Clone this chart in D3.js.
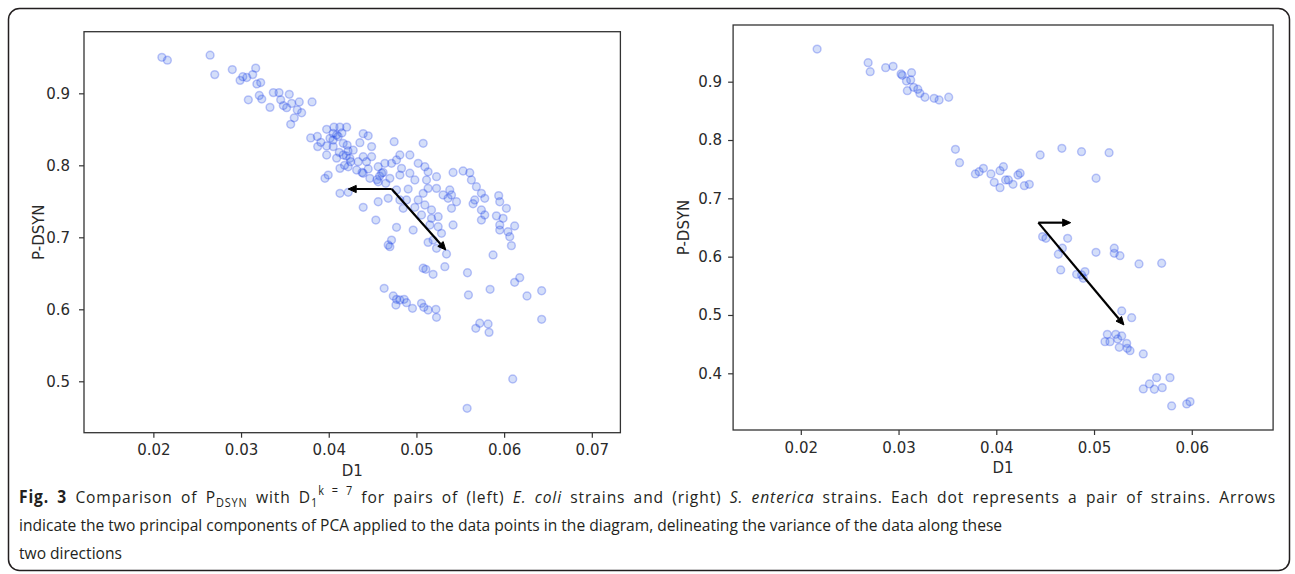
<!DOCTYPE html>
<html>
<head>
<meta charset="utf-8">
<script src="https://cdn.jsdelivr.net/npm/d3@7"></script>
<style>
  body { margin: 0; background: #fff; }
  svg { display: block; }
</style>
</head>
<body>
<svg id="fig" width="1295" height="574"></svg>
<script>
// E. coli pairs (left panel)
var leftD1 = [
  0.02097, 0.0216, 0.02647, 0.0270, 0.0290, 0.02989, 0.0302, 0.03065, 0.03133, 0.03167,
  0.0318, 0.03224, 0.03083, 0.03208, 0.03236, 0.0333, 0.03368, 0.03433, 0.03452, 0.03482,
  0.0352, 0.0355, 0.03577, 0.03664, 0.03641, 0.03691, 0.03607, 0.03566, 0.0381,
  0.03794, 0.0387, 0.03874, 0.0391, 0.03976, 0.0406, 0.04127, 0.04204, 0.04014, 0.0409,
  0.03976, 0.04051, 0.04051, 0.04108, 0.04165, 0.0421, 0.04393, 0.0445, 0.04355, 0.04489,
  0.04746, 0.05077, 0.0409, 0.0420, 0.04279, 0.04393, 0.04489, 0.03976, 0.04165, 0.04241,
  0.04336, 0.04431, 0.04128, 0.04222, 0.04318, 0.04393, 0.04564, 0.04603, 0.0464, 0.04716,
  0.04773, 0.04811, 0.04925, 0.0483, 0.04925, 0.0502, 0.05096, 0.05133, 0.05229, 0.05418,
  0.05532, 0.05608, 0.05627, 0.03957, 0.03994, 0.04469, 0.04564, 0.04697, 0.04811, 0.04982,
  0.05115, 0.04128, 0.04222, 0.04393, 0.04564, 0.04678, 0.04537, 0.04773, 0.04906, 0.04811,
  0.04887, 0.04849, 0.0502, 0.04982, 0.05077, 0.05133, 0.05096, 0.05172, 0.05058, 0.05172,
  0.05248, 0.05153, 0.05248, 0.05229, 0.05304, 0.0538, 0.054, 0.05361, 0.05457, 0.054,
  0.05418, 0.05286, 0.0519, 0.05133, 0.05229, 0.05343, 0.04963, 0.04773, 0.04716, 0.04678,
  0.04697, 0.05684, 0.05741, 0.05779, 0.05665, 0.05646, 0.05741, 0.05741, 0.05779, 0.05938,
  0.0595, 0.06026, 0.05912, 0.05988, 0.0595, 0.0595, 0.06044, 0.0612, 0.06064, 0.06083,
  0.05874, 0.0425, 0.0445, 0.0458, 0.0462, 0.0465, 0.0455, 0.0438, 0.0418, 0.0412,
  0.0422, 0.0415, 0.0405, 0.05077, 0.05107, 0.0519, 0.05324, 0.05582, 0.0612, 0.06178,
  0.04632, 0.04736, 0.04773, 0.04766, 0.04811, 0.0486, 0.04887, 0.04955, 0.05058, 0.05084,
  0.05133, 0.05222, 0.05229, 0.05593, 0.0584, 0.06261, 0.06428, 0.06428, 0.05722, 0.05677,
  0.05817, 0.05828, 0.06098, 0.05578
];
var leftPdsyn = [
  0.950, 0.946, 0.953, 0.926, 0.933, 0.918, 0.923, 0.922, 0.926, 0.935,
  0.913, 0.915, 0.891, 0.897, 0.892, 0.8805, 0.901, 0.901, 0.891, 0.883,
  0.880, 0.8986, 0.886, 0.888, 0.877, 0.873, 0.866, 0.857, 0.888,
  0.838, 0.840, 0.826, 0.832, 0.850, 0.853, 0.853, 0.853, 0.8375, 0.842,
  0.827, 0.826, 0.8444, 0.840, 0.8306, 0.828, 0.844, 0.841, 0.8314, 0.826,
  0.8328, 0.8306, 0.810, 0.813, 0.821, 0.812, 0.812, 0.8143, 0.8143, 0.8097,
  0.805, 0.805, 0.7958, 0.798, 0.7935, 0.789, 0.798, 0.789, 0.8028, 0.8028,
  0.8074, 0.8143, 0.8143, 0.7958, 0.789, 0.8028, 0.798, 0.791, 0.7842, 0.790,
  0.7921, 0.7897, 0.7796, 0.782, 0.7865, 0.782, 0.7772, 0.782, 0.7865, 0.7796,
  0.7796, 0.7611, 0.7625, 0.7417, 0.7494, 0.7542, 0.724, 0.7657, 0.767, 0.7518,
  0.7518, 0.7403, 0.7518, 0.7417, 0.7611, 0.768, 0.7449, 0.738, 0.731, 0.7264,
  0.7286, 0.7171, 0.7147, 0.768, 0.7588, 0.7657, 0.7588, 0.7542, 0.7494, 0.7403,
  0.7171, 0.7056, 0.6962, 0.693, 0.6847, 0.6768, 0.7101, 0.7139, 0.6962, 0.6893,
  0.687, 0.7703, 0.7611, 0.7542, 0.7518, 0.7466, 0.738, 0.724, 0.731, 0.7579,
  0.7494, 0.7403, 0.7298, 0.7264, 0.7171, 0.7101, 0.7078, 0.7157, 0.7009, 0.6884,
  0.6755, 0.805, 0.795, 0.785, 0.790, 0.775, 0.780, 0.790, 0.800, 0.818,
  0.820, 0.845, 0.835, 0.657, 0.6556, 0.6486, 0.6592, 0.6508, 0.6375, 0.6439,
  0.6292, 0.6185, 0.6139, 0.606, 0.6129, 0.6139, 0.6092, 0.6014, 0.6083, 0.6028,
  0.599, 0.600, 0.5889, 0.6199, 0.6278, 0.6185, 0.6258, 0.5861, 0.5806, 0.5736,
  0.5796, 0.568, 0.5032, 0.4625
];

// S. enterica pairs (right panel)
var rightD1 = [
  0.02167, 0.02689, 0.0271, 0.02868, 0.02944, 0.03026, 0.03038, 0.03133, 0.03081, 0.03124,
  0.0309, 0.03154, 0.03197, 0.03218, 0.0327, 0.03364, 0.03415, 0.03513,
  0.03582, 0.03624, 0.03786, 0.03825, 0.03868, 0.03945, 0.03979, 0.04038, 0.04038, 0.04073,
  0.04095, 0.04124, 0.04171, 0.04222, 0.04244, 0.04287, 0.04338, 0.04449, 0.04671, 0.04872,
  0.05154, 0.05021,
  0.04474, 0.04508, 0.0473, 0.04676, 0.04635, 0.04659, 0.04822, 0.04873, 0.04907, 0.0489,
  0.0502, 0.05207, 0.05207, 0.05265, 0.0546, 0.05692, 0.05283, 0.05385, 0.05136, 0.05112,
  0.05163, 0.05222, 0.05242, 0.05283, 0.05258, 0.05334, 0.0534, 0.05368, 0.05504, 0.0564,
  0.05777, 0.05567, 0.05504, 0.05617, 0.05698, 0.05794, 0.05948, 0.05982
];
var rightPdsyn = [
  0.956, 0.9326, 0.9171, 0.924, 0.9264, 0.9132, 0.911, 0.9154, 0.9012, 0.903,
  0.8846, 0.8904, 0.887, 0.880, 0.8733, 0.8715, 0.8686, 0.8733,
  0.7841, 0.7611, 0.7418, 0.7457, 0.7515, 0.7418, 0.7275, 0.7183, 0.7474, 0.7543,
  0.7315, 0.7315, 0.7241, 0.740, 0.743, 0.7217, 0.7241, 0.7743, 0.7858, 0.780,
  0.7783, 0.7344,
  0.6343, 0.6315, 0.6315, 0.6144, 0.6041, 0.5772, 0.5698, 0.5686, 0.5743, 0.563,
  0.6075, 0.6144, 0.6058, 0.6017, 0.5875, 0.5887, 0.5069, 0.4954, 0.4669, 0.4543,
  0.4543, 0.4669, 0.4589, 0.464, 0.4446, 0.4514, 0.4429, 0.4388, 0.4332, 0.3926,
  0.3926, 0.3818, 0.3732, 0.3727, 0.3754, 0.344, 0.3475, 0.3514
];

// PCA arrows: [originD1, originP, tipD1, tipP]
var leftArrows = [
  [0.04718, 0.7671, 0.04222, 0.7671],
  [0.04718, 0.7671, 0.05335, 0.6824]
];
var rightArrows = [
  [0.0443, 0.6583, 0.04761, 0.6583],
  [0.0443, 0.6583, 0.05306, 0.4829]
];

var leftXTicks = [0.02, 0.03, 0.04, 0.05, 0.06, 0.07];
var leftYTicks = [0.5, 0.6, 0.7, 0.8, 0.9];
var rightXTicks = [0.02, 0.03, 0.04, 0.05, 0.06];
var rightYTicks = [0.4, 0.5, 0.6, 0.7, 0.8, 0.9];

var xLabel = "D1";
var yLabel = "P-DSYN";

var svg = d3.select("#fig");

// rounded outer frame
svg.append("rect")
  .attr("x", 8.5).attr("y", 8.5)
  .attr("width", 1281).attr("height", 562)
  .attr("rx", 11).attr("ry", 11)
  .attr("fill", "none")
  .attr("stroke", "#231f20")
  .attr("stroke-width", 1.5);

function drawPanel(opts) {
  var x = d3.scaleLinear().domain(opts.xDomain).range([opts.left, opts.right]);
  var y = d3.scaleLinear().domain(opts.yDomain).range([opts.bottom, opts.top]);
  var g = svg.append("g");

  // x axis
  var xa = g.append("g")
    .attr("transform", "translate(0," + opts.bottom + ")")
    .call(d3.axisBottom(x).tickValues(opts.xTicks).tickFormat(d3.format(".2f"))
      .tickSize(5).tickSizeOuter(0).tickPadding(7));
  // y axis
  var ya = g.append("g")
    .attr("transform", "translate(" + opts.left + ",0)")
    .call(d3.axisLeft(y).tickValues(opts.yTicks).tickFormat(d3.format(".1f"))
      .tickSize(5).tickSizeOuter(0).tickPadding(opts.yPad));
  [xa, ya].forEach(function(a) {
    a.select(".domain").remove();
    a.selectAll("line").attr("stroke", "#333").attr("stroke-width", 1.2);
    a.selectAll("text")
      .style("font-family", "'DejaVu Sans', sans-serif")
      .style("font-size", "15px")
      .attr("fill", "#2a2a2a");
  });

  // points
  g.append("g").selectAll("circle")
    .data(opts.xs.map(function(d, i) { return [d, opts.ys[i]]; }))
    .enter()
    .append("circle")
      .attr("cx", function(d) { return x(d[0]); })
      .attr("cy", function(d) { return y(d[1]); })
      .attr("r", 3.9)
      .attr("fill", "rgb(40,90,225)")
      .attr("fill-opacity", 0.2)
      .attr("stroke", "rgb(30,60,235)")
      .attr("stroke-opacity", 0.28)
      .attr("stroke-width", 1.5);

  // arrows
  opts.arrows.forEach(function(a) {
    var x0 = x(a[0]), y0 = y(a[1]), x1 = x(a[2]), y1 = y(a[3]);
    var ang = Math.atan2(y1 - y0, x1 - x0);
    var hl = 8, hw = 3.6;
    var bx = x1 - hl * Math.cos(ang), by = y1 - hl * Math.sin(ang);
    g.append("line")
      .attr("x1", x0).attr("y1", y0).attr("x2", bx).attr("y2", by)
      .attr("stroke", "#000").attr("stroke-width", 2.2);
    g.append("path")
      .attr("d", "M" + x1 + "," + y1 +
        "L" + (bx - hw * Math.sin(ang)) + "," + (by + hw * Math.cos(ang)) +
        "L" + (bx + hw * Math.sin(ang)) + "," + (by - hw * Math.cos(ang)) + "Z")
      .attr("fill", "#000")
      .attr("stroke", "#000")
      .attr("stroke-width", 1);
  });

  // frame
  g.append("rect")
    .attr("x", opts.left).attr("y", opts.top)
    .attr("width", opts.right - opts.left).attr("height", opts.bottom - opts.top)
    .attr("fill", "none").attr("stroke", "#333").attr("stroke-width", 1.3);

  g.append("text")
    .attr("x", (opts.left + opts.right) / 2).attr("y", opts.bottom + 43)
    .attr("text-anchor", "middle")
    .style("font-family", "'DejaVu Sans', sans-serif").style("font-size", "15px")
    .attr("fill", "#2a2a2a")
    .text(xLabel);
  g.append("text")
    .attr("transform", "translate(" + opts.yLabelX + "," + ((opts.top + opts.bottom) / 2) + ") rotate(-90)")
    .attr("text-anchor", "middle")
    .style("font-family", "'DejaVu Sans', sans-serif").style("font-size", "15px")
    .attr("fill", "#2a2a2a")
    .text(yLabel);
}

drawPanel({
  xs: leftD1, ys: leftPdsyn, arrows: leftArrows,
  xDomain: [0.01209, 0.07326], yDomain: [0.4286, 0.9856],
  left: 84, right: 620.4, top: 31.7, bottom: 432.7,
  xTicks: leftXTicks, yTicks: leftYTicks, yPad: 9, yLabelX: 44
});
drawPanel({
  xs: rightD1, ys: rightPdsyn, arrows: rightArrows,
  xDomain: [0.013074, 0.06832], yDomain: [0.3028, 0.9972],
  left: 733.1, right: 1273.1, top: 25, bottom: 430,
  xTicks: rightXTicks, yTicks: rightYTicks, yPad: 6, yLabelX: 689
});

// caption (condensed face, justified first line)
var capX = 19, capRight = 1276, line2Right = 1003;
var cap = svg.append("g")
  .style("font-family", "'Open Sans', sans-serif")
  .style("font-size", "17px")
  .attr("fill", "#231f20");

var line1 = cap.append("text").attr("x", 0).attr("y", 503);
line1.append("tspan").attr("font-weight", "bold").text("Fig. 3");
line1.append("tspan").text(" Comparison of P");
line1.append("tspan").attr("font-size", "0.7em").attr("dy", 4).text("DSYN");
line1.append("tspan").attr("dy", -4).text(" with D");
line1.append("tspan").attr("font-size", "0.7em").attr("dy", 4).text("1");
line1.append("tspan").attr("font-size", "0.7em").attr("dy", -12).text("k = 7");
line1.append("tspan").attr("dy", 8).text(" for pairs of (left) ");
line1.append("tspan").attr("font-style", "italic").text("E. coli");
line1.append("tspan").text(" strains and (right) ");
line1.append("tspan").attr("font-style", "italic").text("S. enterica");
line1.append("tspan").text(" strains. Each dot represents a pair of strains. Arrows");

var line2 = cap.append("text").attr("x", 0).attr("y", 531)
  .text("indicate the two principal components of PCA applied to the data points in the diagram, delineating the variance of the data along these");
var line3 = cap.append("text").attr("x", 0).attr("y", 559)
  .text("two directions");

var sx = (line2Right - capX) / line2.node().getComputedTextLength();
cap.attr("transform", "translate(" + capX + ",0) scale(" + sx + ",1)");
var w1 = line1.node().getComputedTextLength();
var txt1 = line1.text();
var spaces = txt1.split(" ").length - 1;
var extra = (capRight - capX) / sx - w1;
var ls = 0.6 * extra / txt1.length;
line1.style("letter-spacing", ls + "px");
var w1b = line1.node().getComputedTextLength();
line1.style("word-spacing", ((capRight - capX) / sx - w1b) / spaces + "px");
</script>
</body>
</html>
